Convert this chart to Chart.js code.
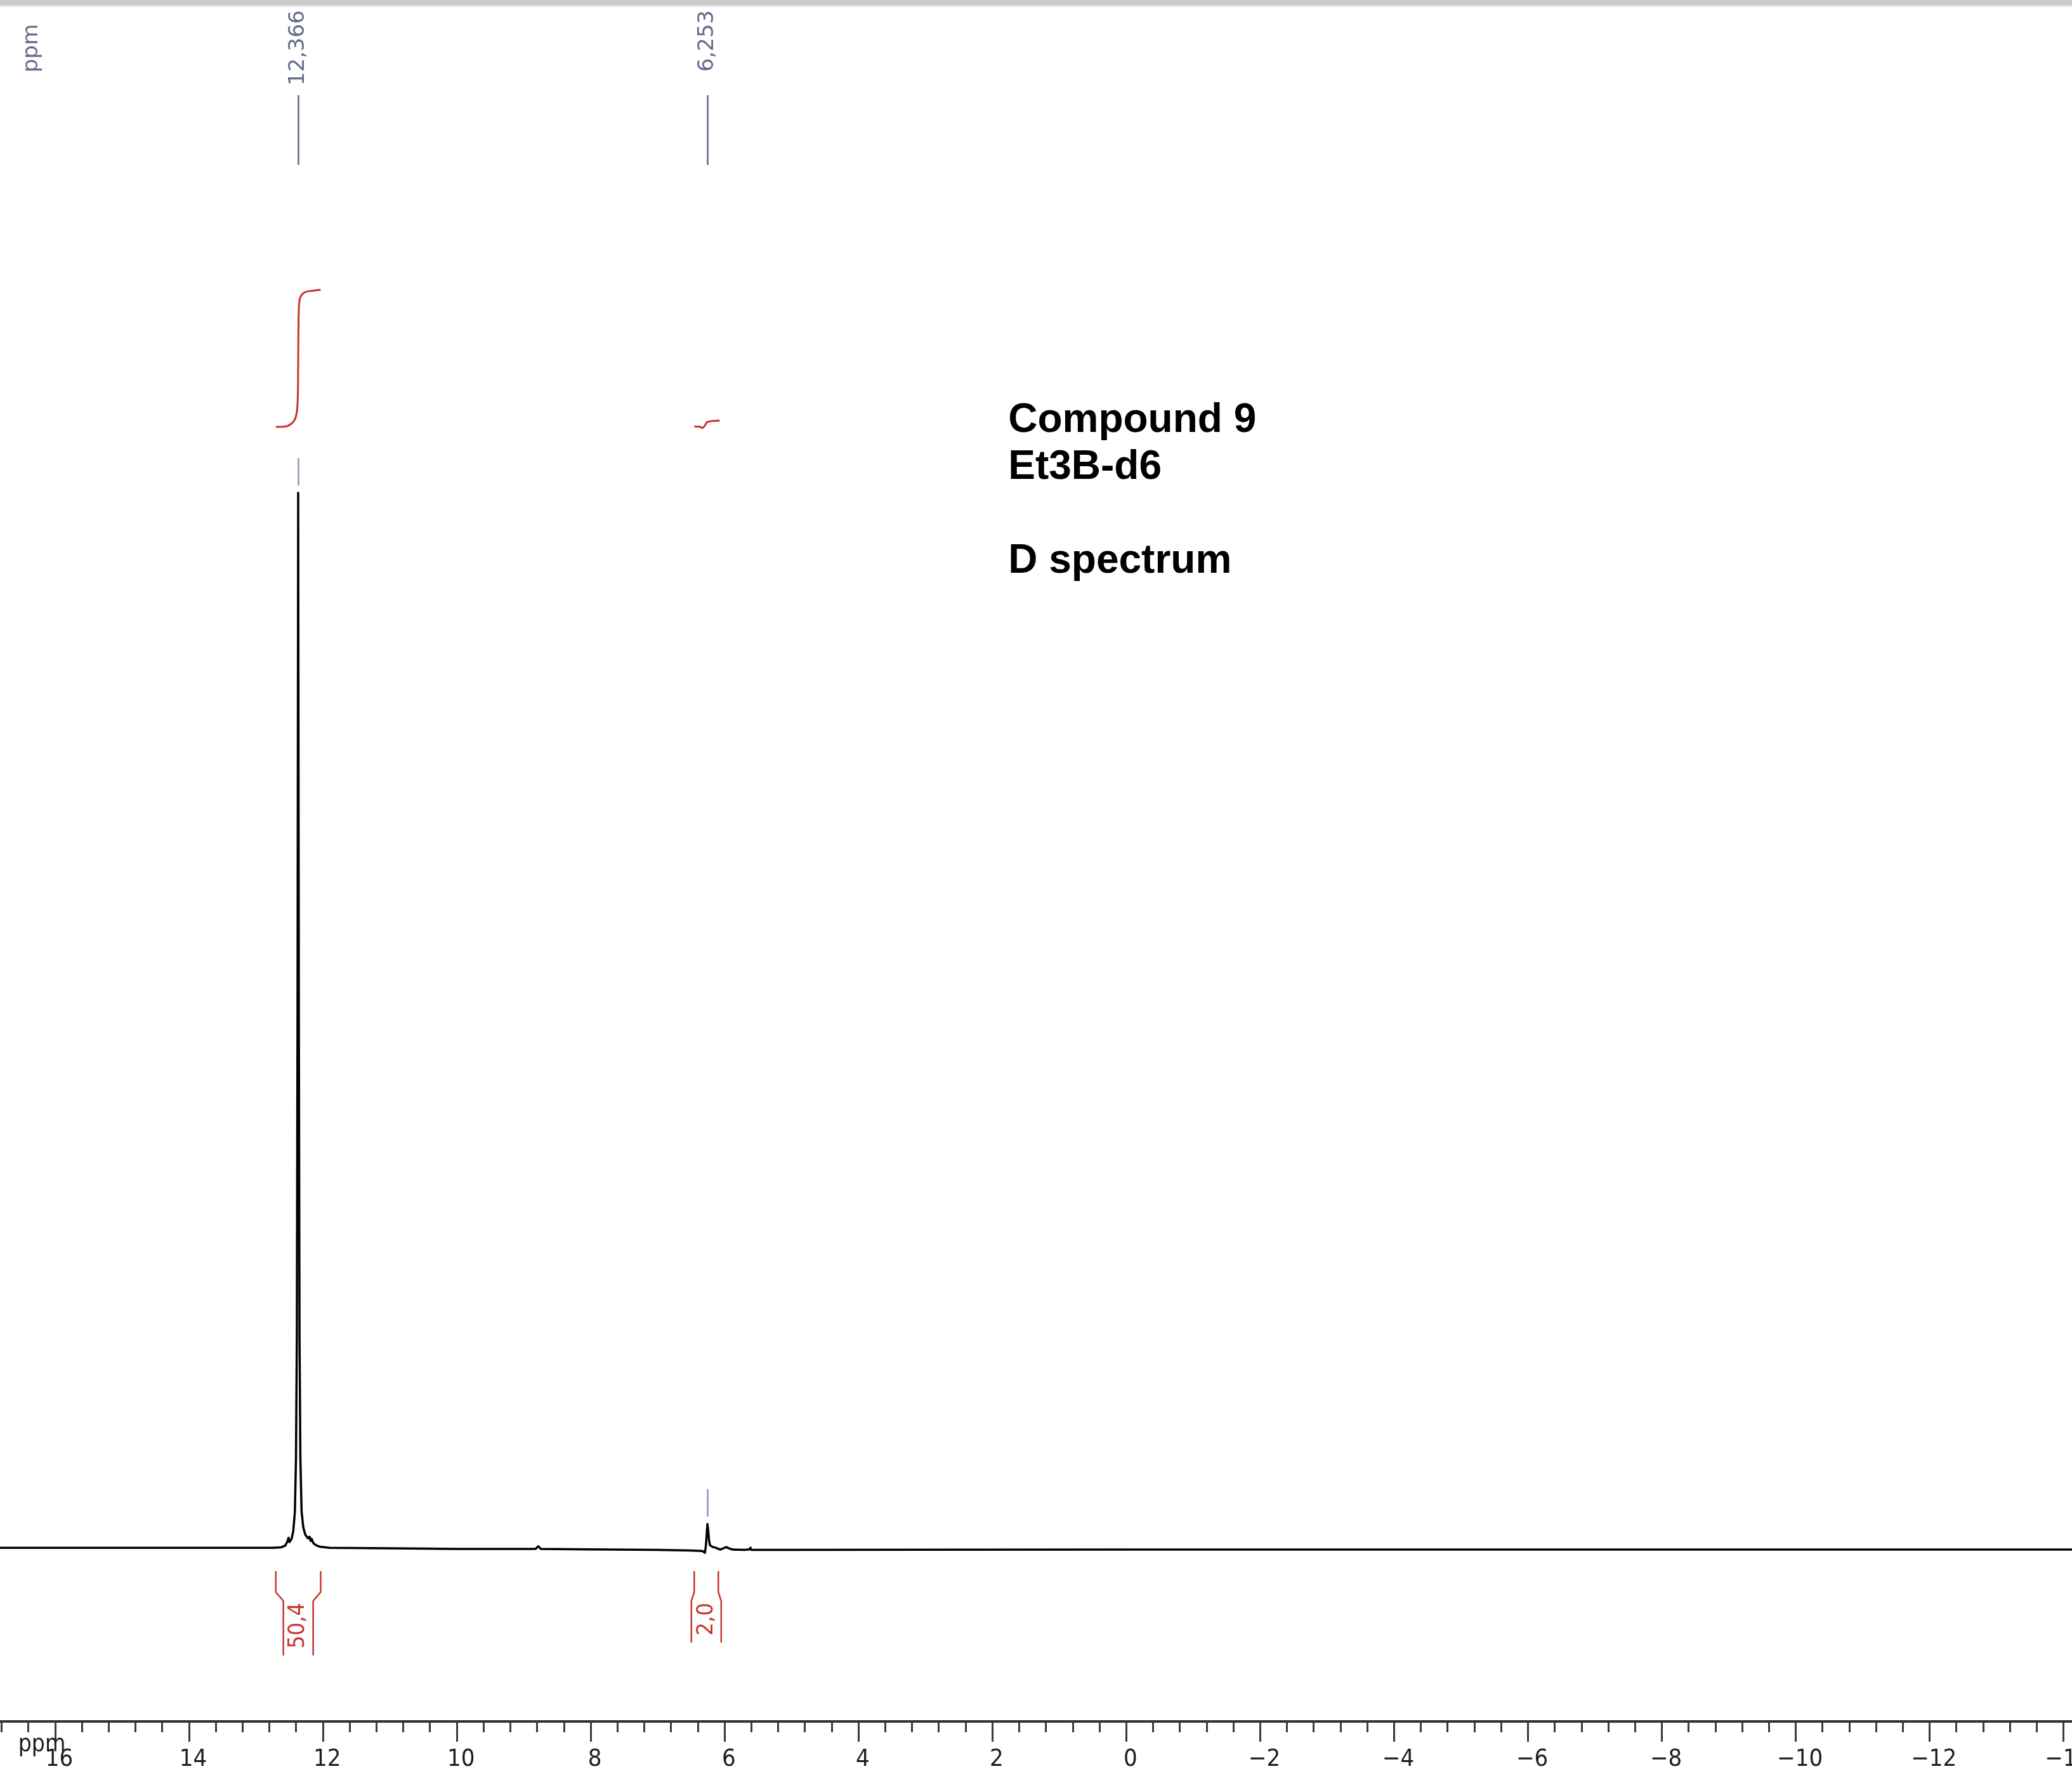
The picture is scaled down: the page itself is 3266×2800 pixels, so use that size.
<!DOCTYPE html>
<html>
<head>
<meta charset="utf-8">
<title>Compound 9 - D spectrum</title>
<script src="https://cdn.jsdelivr.net/npm/chart.js@4.4.1/dist/chart.umd.min.js"></script>
<style>
  html, body { margin: 0; padding: 0; background: #fff; }
  #wrap { width: 3266px; height: 2800px; position: relative; }
</style>
</head>
<body>
<div id="wrap"><canvas id="spectrumChart"></canvas></div>
<script>
// Spectrum trace (ppm / intensity, main peak = 100)
const specPpm = [16.82, 15.5, 14.0, 13.2, 12.75, 12.62, 12.56, 12.53, 12.51, 12.495, 12.465, 12.44, 12.415, 12.399,
  12.386, 12.376, 12.366, 12.356, 12.346, 12.333, 12.315, 12.29, 12.26, 12.22, 12.195, 12.18, 12.165, 12.14,
  12.10, 12.04, 11.9, 11.0, 10.0, 9.0, 8.82, 8.78, 8.74, 8.0, 7.0, 6.5, 6.33, 6.29, 6.275, 6.262, 6.253, 6.24,
  6.23, 6.215, 6.18, 6.13, 6.06, 6.00, 5.97, 5.93, 5.875, 5.70, 5.625, 5.61, 5.595, 5.0, 3.0, 0.0, -5.0, -10.0, -14.13];
const specInt = [0.05, 0.05, 0.05, 0.05, 0.05, 0.1, 0.25, 0.6, 1.0, 0.6, 0.9, 1.6, 3.5, 8.5,
  20, 50, 100, 50, 20, 8.5, 3.5, 2.0, 1.3, 0.95, 1.1, 0.7, 0.9, 0.5,
  0.3, 0.15, 0.05, 0.0, -0.05, -0.05, -0.05, 0.2, -0.05, -0.1, -0.15, -0.2, -0.25, -0.42, 0.3, 1.5, 2.3, 1.6,
  0.8, 0.3, 0.15, 0.06, -0.12, 0.05, 0.12, 0.0, -0.12, -0.15, -0.1, 0.06, -0.15, -0.15, -0.13, -0.12, -0.12, -0.12, -0.12];

// Integral curves (same units as the trace, drawn above it)
const int1Ppm = [12.70, 12.55, 12.48, 12.42, 12.39, 12.375, 12.368, 12.364, 12.358, 12.345, 12.31, 12.25, 12.15, 12.03];
const int1Val = [106.25, 106.3, 106.5, 106.9, 107.5, 108.5, 110.5, 114, 117, 118.3, 118.8, 119.05, 119.15, 119.25];
const int2Ppm = [6.45, 6.36, 6.33, 6.30, 6.28, 6.26, 6.20, 6.07];
const int2Val = [106.3, 106.25, 106.15, 106.3, 106.5, 106.7, 106.8, 106.85];

// Peak picks
const peakPpm = [12.366, 6.253];
const peakHeight = [100, 2.3];
const peakLabels = ['12,366', '6,253'];

// Integration regions and values
const intFrom = [12.70, 6.45];
const intTo = [12.03, 6.09];
const intLabels = ['50,4', '2,0'];

// Axis
const majorTicks = [16, 14, 12, 10, 8, 6, 4, 2, 0, -2, -4, -6, -8, -10, -12, -14];
const minorStep = 0.4;
const xMin = -14.13;
const xMax = 16.82;

const noteLines = ['Compound 9', 'Et3B-d6', '', 'D spectrum'];

const RED = '#c8352e';
const LABEL_BLUE = '#676b8c';
const CONDENSED = '"DejaVu Sans Condensed", "DejaVu Sans", sans-serif';

function toPoints(xs, ys) {
    return xs.map(function (x, i) { return { x: x, y: ys[i] }; });
}

function isMajor(v) {
    return majorTicks.some(function (m) { return Math.abs(m - v) < 1e-6; });
}

function formatTick(v) {
    if (!isMajor(v)) return '';
    var r = Math.round(v);
    return r < 0 ? '\u2212' + Math.abs(r) : String(r);
}

// all tick positions on the ppm axis
function buildTickValues() {
    var list = [];
    for (var k = Math.ceil(xMin / minorStep); k <= Math.floor(xMax / minorStep); k++) {
        list.push(Math.round(k * minorStep * 10) / 10);
    }
    return list;
}

// Draws tick marks, peak labels, integral brackets and the note text
const nmrDecorations = {
    id: 'nmrDecorations',
    beforeDraw: function (chart) {
        var ctx = chart.ctx;
        ctx.save();
        ctx.fillStyle = '#cbcbcb';
        ctx.fillRect(0, 0, chart.width, 8);
        ctx.fillStyle = '#e4e4e4';
        ctx.fillRect(0, 8, chart.width, 3);
        ctx.restore();
    },
    afterDraw: function (chart) {
        var ctx = chart.ctx;
        var xs = chart.scales.x;
        var ys = chart.scales.y;
        ctx.save();

        // axis tick marks
        ctx.strokeStyle = '#3a3a3a';
        ctx.lineWidth = 3;
        xs.ticks.forEach(function (t) {
            var px = Math.round(xs.getPixelForValue(t.value)) + 0.5;
            var len = isMajor(t.value) ? 32 : 17;
            ctx.beginPath();
            ctx.moveTo(px, xs.top);
            ctx.lineTo(px, xs.top + len);
            ctx.stroke();
        });

        // "ppm" under the axis
        ctx.fillStyle = '#1e1e1e';
        ctx.font = '37px ' + CONDENSED;
        ctx.textAlign = 'center';
        ctx.textBaseline = 'alphabetic';
        ctx.fillText('ppm', 66, 2761);

        // rotated "ppm" top left
        ctx.fillStyle = LABEL_BLUE;
        ctx.font = '34px "DejaVu Sans", sans-serif';
        ctx.save();
        ctx.translate(50, 38);
        ctx.rotate(-Math.PI / 2);
        ctx.textAlign = 'right';
        ctx.textBaseline = 'middle';
        ctx.fillText('ppm', 0, 0);
        ctx.restore();

        // peak labels with their lines
        peakPpm.forEach(function (p, i) {
            var px = Math.round(xs.getPixelForValue(p)) + 0.5;
            ctx.save();
            ctx.translate(px, 16);
            ctx.rotate(-Math.PI / 2);
            ctx.textAlign = 'right';
            ctx.textBaseline = 'middle';
            ctx.fillStyle = LABEL_BLUE;
            ctx.fillText(peakLabels[i], 0, 0);
            ctx.restore();

            ctx.strokeStyle = '#5f6383';
            ctx.lineWidth = 2.5;
            ctx.beginPath();
            ctx.moveTo(px, 150);
            ctx.lineTo(px, 260);
            ctx.stroke();

            // pick marker just above the peak
            ctx.strokeStyle = '#8c92b8';
            ctx.beginPath();
            ctx.moveTo(px, ys.getPixelForValue(peakHeight[i] + 0.7));
            ctx.lineTo(px, ys.getPixelForValue(peakHeight[i] + 3.3));
            ctx.stroke();
        });

        // integral brackets and values
        ctx.font = '36px ' + CONDENSED;
        intFrom.forEach(function (from, i) {
            var xl = xs.getPixelForValue(from);
            var xr = xs.getPixelForValue(intTo[i]);
            var cx = (xl + xr) / 2;
            var tw = ctx.measureText(intLabels[i]).width;
            var half = 23.5;
            var yTop = 2477, yK1 = 2510, yK2 = 2524;
            var yBot = yK2 + tw + 14;
            ctx.strokeStyle = RED;
            ctx.lineWidth = 2.5;
            ctx.beginPath();
            ctx.moveTo(xl, yTop);
            ctx.lineTo(xl, yK1);
            ctx.lineTo(cx - half, yK2);
            ctx.lineTo(cx - half, yBot);
            ctx.moveTo(xr, yTop);
            ctx.lineTo(xr, yK1);
            ctx.lineTo(cx + half, yK2);
            ctx.lineTo(cx + half, yBot);
            ctx.stroke();

            ctx.save();
            ctx.translate(cx, yK2 + 3 + tw / 2);
            ctx.rotate(-Math.PI / 2);
            ctx.textAlign = 'center';
            ctx.textBaseline = 'middle';
            ctx.fillStyle = RED;
            ctx.fillText(intLabels[i], 0, 0);
            ctx.restore();
        });

        // note text
        ctx.fillStyle = '#000';
        ctx.font = 'bold 64px "Liberation Sans", Arial, sans-serif';
        ctx.textAlign = 'left';
        ctx.textBaseline = 'alphabetic';
        var nx = xs.getPixelForValue(1.76);
        var ny = 681;
        noteLines.forEach(function (line) {
            if (line) ctx.fillText(line, nx, ny);
            ny += 74;
        });

        ctx.restore();
    }
};

function initSpectrum() {
    var ctx = document.getElementById('spectrumChart');
    var tickValues = buildTickValues();
    new Chart(ctx, {
        type: 'line',
        data: {
            datasets: [{
                label: 'D spectrum',
                data: toPoints(specPpm, specInt),
                borderColor: '#000',
                borderWidth: 3.5,
                borderJoinStyle: 'round',
                pointRadius: 0,
                tension: 0
            }, {
                label: 'Integral 1',
                data: toPoints(int1Ppm, int1Val),
                borderColor: RED,
                borderWidth: 3,
                borderJoinStyle: 'round',
                pointRadius: 0,
                tension: 0.3
            }, {
                label: 'Integral 2',
                data: toPoints(int2Ppm, int2Val),
                borderColor: RED,
                borderWidth: 3,
                borderJoinStyle: 'round',
                pointRadius: 0,
                tension: 0.3
            }]
        },
        options: {
            responsive: true,
            maintainAspectRatio: false,
            animation: false,
            devicePixelRatio: 1,
            events: [],
            layout: { padding: 0 },
            plugins: {
                legend: { display: false },
                tooltip: { enabled: false }
            },
            scales: {
                x: {
                    type: 'linear',
                    reverse: true,
                    min: xMin,
                    max: xMax,
                    afterBuildTicks: function (scale) {
                        scale.ticks = tickValues.map(function (v) { return { value: v }; });
                    },
                    afterFit: function (scale) {
                        scale.height = 86;
                        scale.paddingLeft = 0;
                        scale.paddingRight = 0;
                    },
                    grid: { display: false, drawTicks: false },
                    border: { display: true, color: '#333', width: 4 },
                    ticks: {
                        autoSkip: false,
                        maxRotation: 0,
                        padding: 37,
                        labelOffset: 7,
                        color: '#1e1e1e',
                        font: { family: CONDENSED, size: 38 },
                        callback: function (value) { return formatTick(value); }
                    }
                },
                y: {
                    type: 'linear',
                    display: false,
                    min: -16.4,
                    max: 146.7
                }
            }
        },
        plugins: [nmrDecorations]
    });
}

document.addEventListener('DOMContentLoaded', function () {
    initSpectrum();
});
</script>
</body>
</html>
